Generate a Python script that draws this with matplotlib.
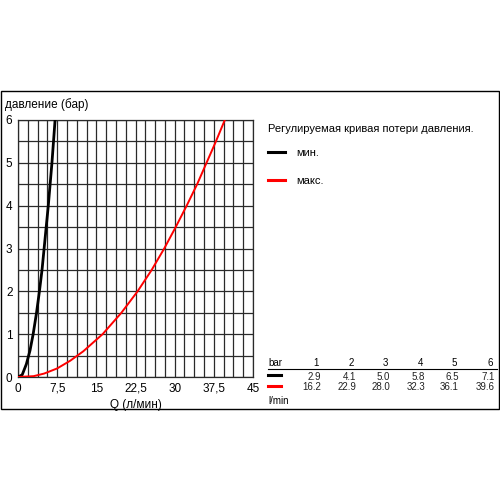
import numpy as np
import matplotlib.pyplot as plt
from matplotlib.patches import Rectangle
from matplotlib.lines import Line2D

plt.rcParams['font.family'] = ['Liberation Sans', 'DejaVu Sans']

# кривые (Q л/мин, давление бар)
q_min = [0, 0.8, 1.6, 2.3, 2.9, 3.55, 4.1, 4.6, 5.0, 5.4, 5.8, 6.15, 6.5, 6.8, 7.1]
p_min = [0, 0.05, 0.3, 0.62, 1.0, 1.5, 2.0, 2.5, 3.0, 3.5, 4.0, 4.5, 5.0, 5.5, 6.0]
q_max = [0, 3.0, 5.0, 7.5, 10.0, 12.5, 16.2, 19.8, 22.9, 25.6, 28.0, 30.2, 32.3, 34.3, 36.1, 37.9, 39.6]
p_max = [0, 0.02, 0.08, 0.2, 0.38, 0.6, 1.0, 1.5, 2.0, 2.5, 3.0, 3.5, 4.0, 4.5, 5.0, 5.5, 6.0]

# таблица
bar_vals = ['1', '2', '3', '4', '5', '6']
tbl_min = ['2.9', '4.1', '5.0', '5.8', '6.5', '7.1']
tbl_max = ['16.2', '22.9', '28.0', '32.3', '36.1', '39.6']

x_ticks = [0, 7.5, 15, 22.5, 30, 37.5, 45]
x_labels = ['0', '7,5', '15', '22,5', '30', '37,5', '45']

fig = plt.figure(figsize=(5, 5), dpi=100)
ax = fig.add_axes([0.036, 0.246, 0.47, 0.514])

ax.plot(q_min, p_min, color='black', lw=2.0, solid_capstyle='butt', zorder=3)
ax.plot(q_max, p_max, color='#ff0000', lw=1.4, zorder=3)

ax.set_xlim(0, 45)
ax.set_ylim(0, 6)
ax.set_xticks(x_ticks)
ax.set_xticklabels(x_labels)
ax.set_yticks(range(7))
ax.set_xticks(np.arange(0, 45.01, 1.875), minor=True)
ax.set_yticks(np.arange(0, 6.01, 0.5), minor=True)
ax.grid(which='both', color='#2a2a2a', lw=0.9)
ax.tick_params(which='both', length=0, labelsize=8.5, pad=4)
for s in ax.spines.values():
    s.set_color('#2a2a2a')
    s.set_linewidth(0.9)
ax.set_xlabel('Q (л/мин)', fontsize=8.5, labelpad=3)

fig.text(0.01, 0.79, 'давление (бар)', fontsize=8.5, va='center')

# рамка вокруг рисунка
fig.add_artist(Rectangle((0.001, 0.182), 0.996, 0.636, transform=fig.transFigure,
                         fill=False, ec='black', lw=1))

# легенда справа
fig.text(0.536, 0.743, 'Регулируемая кривая потери давления.', fontsize=8, va='center')
fig.add_artist(Line2D([0.536, 0.57], [0.696, 0.696], color='black', lw=2.2))
fig.text(0.592, 0.694, 'мин.', fontsize=8, va='center')
fig.add_artist(Line2D([0.536, 0.57], [0.64, 0.64], color='#ff0000', lw=2.2))
fig.text(0.592, 0.638, 'макс.', fontsize=8, va='center')

# таблица
col_x = [0.642, 0.712, 0.78, 0.85, 0.918, 0.99]
fig.text(0.536, 0.274, 'bar', fontsize=7, va='center')
for cx, b, a, m in zip(col_x, bar_vals, tbl_min, tbl_max):
    fig.text(cx - 0.004, 0.274, b, fontsize=7, va='center', ha='right')
    fig.text(cx, 0.247, a, fontsize=7, va='center', ha='right', color='#222222')
    fig.text(cx, 0.225, m, fontsize=7, va='center', ha='right', color='#222222')
fig.add_artist(Line2D([0.536, 0.994], [0.262, 0.262], color='black', lw=0.8))
fig.add_artist(Line2D([0.536, 0.562], [0.251, 0.251], color='black', lw=2.2))
fig.add_artist(Line2D([0.536, 0.562], [0.228, 0.228], color='#ff0000', lw=2.2))
fig.text(0.536, 0.198, 'l/min', fontsize=7, va='center')

fig.savefig('out.png', dpi=100)
